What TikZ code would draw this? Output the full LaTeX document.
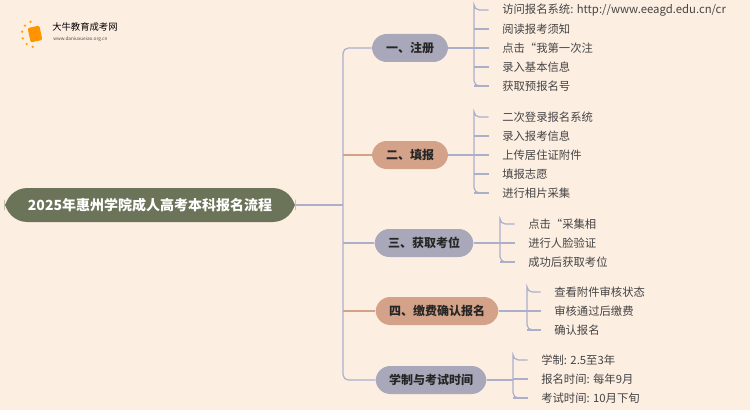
\documentclass[tikz,border=0pt]{standalone}
\usepackage{fontspec}
\setmainfont{Noto Sans CJK SC}
\usetikzlibrary{positioning}
\definecolor{bgpeach}{HTML}{FDEEE2}
\definecolor{rootgreen}{HTML}{6B7459}
\definecolor{nodegrey}{HTML}{A9A8BA}
\definecolor{nodetan}{HTML}{D3A288}
\definecolor{linegrey}{HTML}{ABAFCB}
\definecolor{leaftext}{HTML}{444444}
\tikzset{
  root/.style = {rectangle, rounded corners=17, fill=rootgreen, text=white,
    font=\fontsize{10.5}{12}\selectfont\bfseries, minimum width=218pt, minimum height=25.5pt},
  branch/.style = {rectangle, rounded corners=11, fill=#1, text=black!85,
    font=\fontsize{9}{11}\selectfont\bfseries, minimum height=21pt, inner xsep=10pt},
  leaf/.style = {anchor=west, inner sep=0pt, text=leaftext, font=\fontsize{8.5}{10}\selectfont},
  link/.style = {draw=linegrey, line width=0.9pt, rounded corners=4},
  tanlink/.style = {draw=nodetan, line width=0.9pt}
}
\begin{document}
\begin{tikzpicture}[x=0.75pt, y=-0.75pt]
  \fill[bgpeach] (0,0) rectangle (750,410);
  % logo
  \node[fill=orange!85!yellow, rounded corners=1.5, minimum width=9pt, minimum height=11pt, rotate=12, inner sep=0pt] (logobook) at (35,34) {};
  \foreach \a in {100,130,...,250} \fill[orange!70!yellow] (35,34) ++(\a:13) circle (1.3);
  \node[anchor=west, inner sep=0pt, font=\fontsize{7}{8}\selectfont] (logotext) at (52,27) {大牛教育成考网};
  \node[anchor=west, inner sep=0pt, font=\fontsize{3.5}{4}\selectfont, text=black!70] (logourl) at (53,39) {www.daniuxueiao.org.cn};
  % Place nodes
  \node[root] (main) at (150,205) {2025年惠州学院成人高考本科报名流程};
  \node[branch=nodegrey, minimum width=57pt] (reg) at (410,48) {一、注册};
  \node[branch=nodetan, minimum width=57pt] (fill) at (410,155) {二、填报};
  \node[branch=nodegrey] (seat) at (424,243) {三、获取考位};
  \node[branch=nodetan] (pay) at (437,311) {四、缴费确认报名};
  \node[branch=nodegrey] (exam) at (431,380) {学制与考试时间};
  % leaves
  \foreach \t [count=\i] in {访问报名系统: http://www.eeagd.edu.cn/cr, 阅读报考须知, 点击“我第一次注, 录入基本信息, 获取预报名号}
    \node[leaf] (reg\i) at (502,{10+19*(\i-1)}) {\t};
  \foreach \t [count=\i] in {二次登录报名系统, 录入报考信息, 上传居住证附件, 填报志愿, 进行相片采集}
    \node[leaf] (fill\i) at (502,{117+19*(\i-1)}) {\t};
  \foreach \t [count=\i] in {点击“采集相, 进行人脸验证, 成功后获取考位}
    \node[leaf] (seat\i) at (528,{224+19*(\i-1)}) {\t};
  \foreach \t [count=\i] in {查看附件审核状态, 审核通过后缴费, 确认报名}
    \node[leaf] (pay\i) at (554,{292+19*(\i-1)}) {\t};
  \foreach \t [count=\i] in {学制: 2.5至3年, 报名时间: 每年9月, 考试时间: 10月下旬}
    \node[leaf] (exam\i) at (541,{360+19*(\i-1)}) {\t};
  % Draw edges
  \coordinate (spine) at (343,205);
  \path[link] (main.east) -- (spine);
  \path[link] (reg.west) -| (spine) |- (exam.west);
  \path[link] (spine |- seat.west) -- (seat.west);
  \path[tanlink] (spine |- fill.west) -- (fill.west);
  \path[tanlink] (spine |- pay.west) -- (pay.west);
  \foreach \b/\n/\x in {reg/5/474, fill/5/474, seat/3/500, pay/3/527, exam/3/513} {
    \path[link] (\b.east) -- (\x,0 |- \b.east);
    \path[link] ([xshift=-10pt]\b1.west) -| (\x,0 |- \b1.west) |- ([xshift=-10pt]\b\n.west);
    \foreach \k in {2,...,\n} \path[link] (\x,0 |- \b\k.west) -- ([xshift=-10pt]\b\k.west);
  }
\end{tikzpicture}
\end{document}
